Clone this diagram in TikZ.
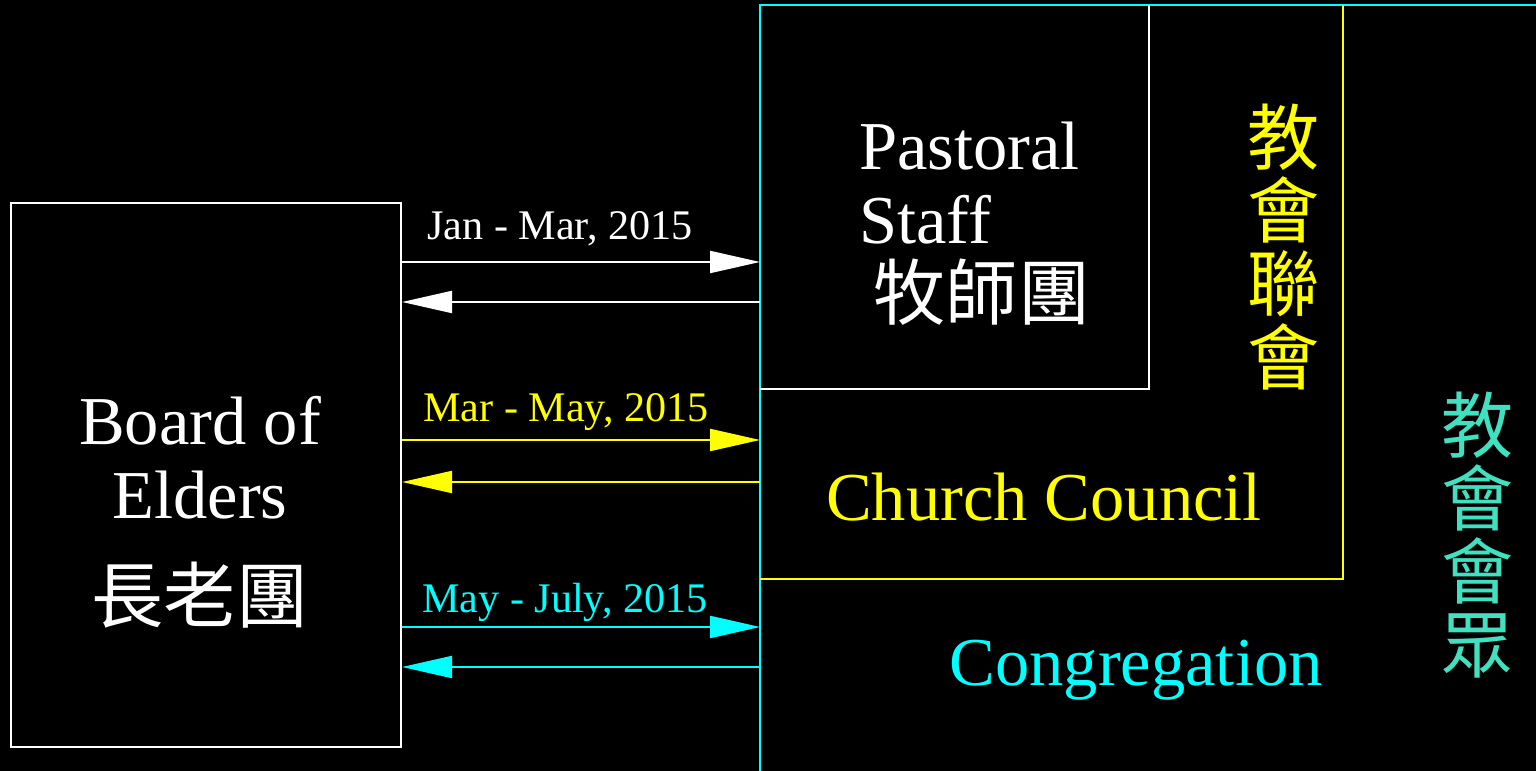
\documentclass[tikz,border=0pt]{standalone}
\usepackage{fontspec}
\setmainfont{Liberation Serif}
\newfontfamily\cjk{Noto Sans CJK TC}
\usetikzlibrary{arrows.meta}
\definecolor{aqua}{RGB}{64,224,192}
\definecolor{tuerkis}{RGB}{0,255,255}
\definecolor{gelb}{RGB}{255,255,0}
\tikzset{
  pfeil/.style={line width=0.6pt, -{Triangle[length=5mm, width=2.2mm]}},
  gross/.style={font=\fontsize{19.5}{21}\selectfont, inner sep=0pt},
  hanzi/.style={font=\cjk\fontsize{20.5}{20.8}\selectfont, inner sep=0pt, align=center},
  datum/.style={font=\fontsize{12}{14}\selectfont, inner sep=0pt}
}
\begin{document}
\begin{tikzpicture}[line width=0.6pt]
% Hintergrund
\fill[black] (0,0) rectangle (15.36,7.71);
\useasboundingbox (0,0) rectangle (15.36,7.71);
% Rahmen rechts: Gemeinde, Kirchenrat, Pastoren
\def\L{7.60}
\def\T{7.66}
\draw[tuerkis, line width=0.8pt] (15.36,\T) -- (\L,\T) -- (\L,0);
\draw[gelb] (\L,1.92) -- (13.43,1.92) -- (13.43,\T);
\draw[white] (\L,3.82) -- (11.49,3.82) -- (11.49,\T);
% Aeltestenrat
\node[draw=white, minimum width=3.90cm, minimum height=5.44cm] (board) at (2.06,2.96) {};
\node[gross, white, align=center] (boardtxt) at (2.00,3.13) {Board of\\Elders};
\node[hanzi, white] (elders) at (2.00,1.76) {長老團};
% Endpunkte der Pfeile am Rahmen
\coordinate (jan hin)  at (\L,5.09);
\coordinate (jan her)  at (\L,4.69);
\coordinate (mar hin)  at (\L,3.31);
\coordinate (mar her)  at (\L,2.89);
\coordinate (may hin)  at (\L,1.44);
\coordinate (may her)  at (\L,1.04);
% Pfeile
\draw[pfeil, white]   (board.east |- jan hin) -- (jan hin);
\draw[pfeil, white]   (jan her) -- (board.east |- jan her);
\draw[pfeil, gelb]    (board.east |- mar hin) -- (mar hin);
\draw[pfeil, gelb]    (mar her) -- (board.east |- mar her);
\draw[pfeil, tuerkis] (board.east |- may hin) -- (may hin);
\draw[pfeil, tuerkis] (may her) -- (board.east |- may her);
% Zeitraeume
\node[datum, white]   (jan) at (5.60,5.42) {Jan - Mar, 2015};
\node[datum, gelb]    (mar) at (5.66,3.59) {Mar - May, 2015};
\node[datum, tuerkis] (may) at (5.65,1.69) {May - July, 2015};
% Beschriftungen rechts
\node[gross, white, align=left, anchor=west] (pastoral) at (8.58,5.88) {Pastoral\\Staff};
\node[hanzi, white] (pastors) at (9.82,4.79) {牧師團};
\node[hanzi, gelb] (council zh) at (12.84,5.24) {教\\會\\聯\\會};
\node[gross, gelb] (council) at (10.44,2.74) {Church Council};
\node[gross, tuerkis] (congregation) at (11.36,1.01) {Congregation};
\node[hanzi, aqua] (congregation zh) at (14.77,2.36) {教\\會\\會\\眾};
\end{tikzpicture}
\end{document}
